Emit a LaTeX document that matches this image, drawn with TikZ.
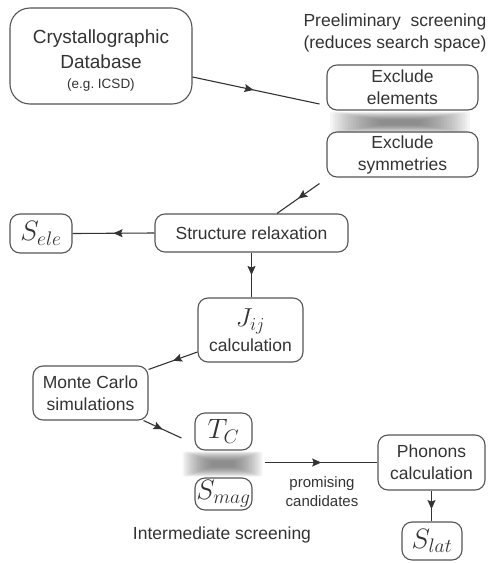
\RequirePackage{fix-cm}
\documentclass[tikz,border=0pt]{standalone}
\usepackage{fontspec}
\setmainfont{Liberation Sans}
\usetikzlibrary{decorations.markings,arrows.meta}

\definecolor{inkgray}{HTML}{333333}
\definecolor{edgegray}{HTML}{555555}

% soft grey band between two stacked boxes
\newcommand{\fuzzband}[4]{% centre x, centre y, width, height
  \foreach \k in {0,...,19}{
    \pgfmathsetmacro{\hw}{#3/2*(1-0.7*\k/19)}
    \pgfmathsetmacro{\hh}{#4/2*(1-0.75*\k/19)}
    \fill[black!65, opacity=0.055, rounded corners=2pt]
      (#1-\hw,#2-\hh) rectangle (#1+\hw,#2+\hh);
  }%
}

\tikzset{
  txt/.style={text=inkgray, align=center, inner sep=0pt,
    font=\fontsize{17.5}{22}\selectfont},
  box/.style={txt, draw=edgegray, line width=1.1pt, rounded corners=10pt},
  mathbox/.style={box, font=\fontsize{28}{32}\selectfont},
  flow/.style={draw=inkgray, line width=1.1pt, postaction={decorate},
    decoration={markings, mark=at position #1 with
      {\arrow{Stealth[length=9pt,width=8pt,inset=1.5pt]}}}},
  flow/.default=0.5
}

\begin{document}
\begin{tikzpicture}[x=1pt,y=-1pt]
\useasboundingbox (0,0) rectangle (490,563);

% database
\node[box, rounded corners=20pt, minimum width=182pt, minimum height=96pt]
  (db) at (101,56) {};
\node[txt, font=\fontsize{19}{25}\selectfont] (dbtext) at (101,49)
  {Crystallographic\\Database};
\node[txt, font=\fontsize{13.5}{16}\selectfont] (icsd) at (101,85) {(e.g.\ ICSD)};

% preliminary screening
\node[txt] (pre) at (395,33) {Preeliminary\ \ screening\\(reduces search space)};
\node[box, minimum width=151pt, minimum height=45pt] (exel) at (402.5,87.5)
  {Exclude\\elements};
\node[box, minimum width=151pt, minimum height=45pt] (exsym) at (402.5,154.5)
  {Exclude\\symmetries};
\fuzzband{400}{122.5}{140}{21}

% relaxation and electronic entropy
\node[box, minimum width=193pt, minimum height=38pt] (rel) at (251.5,233)
  {Structure relaxation};
\node[mathbox, minimum width=62pt, minimum height=39pt] (sele) at (41,233.5)
  {$S_{ele}$};

% exchange and Monte Carlo
\node[box, minimum width=105pt, minimum height=64pt] (jij) at (250.5,330)
  {{\fontsize{26}{28}\selectfont$J_{ij}$}\\[3pt]calculation};
\node[box, minimum width=115pt, minimum height=54pt] (mc) at (90.5,393)
  {Monte Carlo\\simulations};

% intermediate screening
\node[mathbox, minimum width=57pt, minimum height=37pt] (tc) at (223.5,431.5)
  {$T_C$};
\node[mathbox, minimum width=57pt, minimum height=32pt] (smag) at (223.5,494)
  {$S_{mag}$};
\fuzzband{222.5}{464}{80}{25}
\node[txt] (inter) at (222,535) {Intermediate screening};
\node[txt, font=\fontsize{15}{19}\selectfont] (prom) at (322,492)
  {promising\\candidates};

% phonons
\node[box, minimum width=107pt, minimum height=55pt] (ph) at (431.5,462.5)
  {Phonons\\calculation};
\node[mathbox, minimum width=60pt, minimum height=38pt] (slat) at (432,541)
  {$S_{lat}$};

% connectors
\coordinate (inexel) at ([xshift=-7pt,yshift=-16.5pt]exel.west);
\coordinate (outsym) at ([xshift=-7pt,yshift=-6pt]exsym.south west);
\coordinate (intc) at ([xshift=-13pt,yshift=-6.5pt]tc.west);
\coordinate (outband) at (265,462.5);

\draw[flow=0.48] ([yshift=-21pt]db.east) -- (inexel);
\draw[flow] (outsym) -- ([xshift=25.5pt]rel.north);
\draw[flow] (rel.west) -- (sele.east);
\draw[flow] (rel.south) -- (rel.south |- jij.north);
\draw[flow] ([yshift=-22pt]jij.west) -- ([yshift=-4pt]mc.north east);
\draw[flow] ([xshift=-5pt]mc.south east) -- (intc);
\draw[flow] (outband) -- (ph.west);
\draw[flow=0.6] (ph.south) -- (ph.south |- slat.north);
\end{tikzpicture}
\end{document}
